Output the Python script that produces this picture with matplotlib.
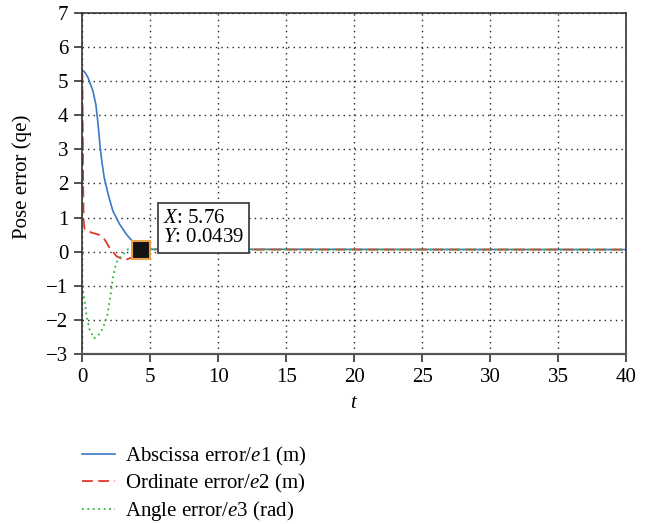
import matplotlib
matplotlib.use("Agg")
import matplotlib.pyplot as plt

plt.rcParams['font.family'] = ['Liberation Serif', 'DejaVu Serif']
plt.rcParams['mathtext.fontset'] = 'custom'
plt.rcParams['mathtext.rm'] = 'Liberation Serif'
plt.rcParams['mathtext.it'] = 'Liberation Serif:italic'

# values
t_e1 = [0, 0.2, 0.42, 0.78, 1.0, 1.1, 1.2, 1.3, 1.45, 1.61, 1.9, 2.25, 2.75, 3.24, 3.68, 4.3, 5.0, 40]
e1 = [5.32, 5.25, 5.1, 4.71, 4.3, 3.95, 3.55, 3.1, 2.6, 2.17, 1.68, 1.19, 0.8, 0.51, 0.31, 0.12, 0.07, 0.06]

t_e2 = [0, 0.03, 0.06, 0.1, 0.17, 0.66, 1.27, 1.63, 2.0, 2.5, 3.1, 3.6, 4.3, 5.0, 40]
e2 = [5.25, 3.8, 2.0, 0.9, 0.65, 0.56, 0.49, 0.36, 0.12, -0.13, -0.25, -0.18, 0.0, 0.06, 0.06]

t_e3 = [0, 0.17, 0.34, 0.53, 0.86, 1.2, 1.51, 1.83, 2.05, 2.25, 2.5, 2.75, 3.36, 4.3, 5.0, 40]
e3 = [-1.0, -1.45, -1.94, -2.28, -2.54, -2.44, -2.25, -1.89, -1.35, -0.76, -0.32, -0.18, 0.07, 0.06, 0.06, 0.06]

labels = ['Abscissa error/$e$1 (m)', 'Ordinate error/$e$2 (m)', 'Angle error/$e$3 (rad)']
colors = ['#3a78c8', '#e23a2a', '#22b83a']

tip_x, tip_y = 4.3, 0.0439
tip_text = '$X$: 5.76\n$Y$: 0.0439'

x_ticks = list(range(0, 41, 5))
y_ticks = list(range(-3, 8))

fs = 15

fig = plt.figure(figsize=(6.66, 5.24), dpi=100)
ax = fig.add_axes([0.1236, 0.3244, 0.8164, 0.6513])

l1, = ax.plot(t_e1, e1, color=colors[0], lw=1.2, label=labels[0])
l2, = ax.plot(t_e2, e2, color=colors[1], lw=1.3, ls=(0, (6, 3)), label=labels[1])
l3, = ax.plot(t_e3, e3, color=colors[2], lw=1.3, ls=(0, (1, 2)), label=labels[2])

# data tip
ax.plot([tip_x], [tip_y], marker='s', ms=13.5, mfc='#141414', mec='#e8a04a', mew=1.5, zorder=5)
ax.annotate(tip_text, xy=(tip_x, tip_y), xytext=(16, 2), textcoords='offset points',
            ha='left', va='bottom', fontsize=fs, linespacing=1.05,
            bbox=dict(boxstyle='square,pad=0.25', fc='white', ec='#333333', lw=1.2), zorder=6)

ax.set_xlim(0, 40)
ax.set_ylim(-3, 7)
ax.set_xticks(x_ticks)
ax.set_yticks(y_ticks)
ax.set_yticklabels([str(v).replace('-', '\u2212') for v in y_ticks])
ax.grid(True, color='#222222', ls=(0, (1, 3)), lw=1.0)
ax.tick_params(axis='both', labelsize=fs, direction='out', length=6, width=1.2, color='#333333', pad=4)

for s in ax.spines.values():
    s.set_color('#333333')
    s.set_linewidth(1.2)
ax.spines['bottom'].set_color('#555555')
ax.spines['bottom'].set_linewidth(1.6)

ax.set_xlabel('$t$', fontsize=fs, labelpad=5)
ax.set_ylabel('Pose error (qe)', fontsize=fs)
ax.yaxis.set_label_coords(-0.092, 0.52)

fig.legend(handles=[l1, l2, l3], loc='upper left', bbox_to_anchor=(0.1227, 1 - 445 / 524),
           frameon=False, fontsize=fs, handlelength=1.6, handletextpad=0.5,
           labelspacing=0.2, borderpad=0, borderaxespad=0)

fig.savefig('out.png', dpi=100)
